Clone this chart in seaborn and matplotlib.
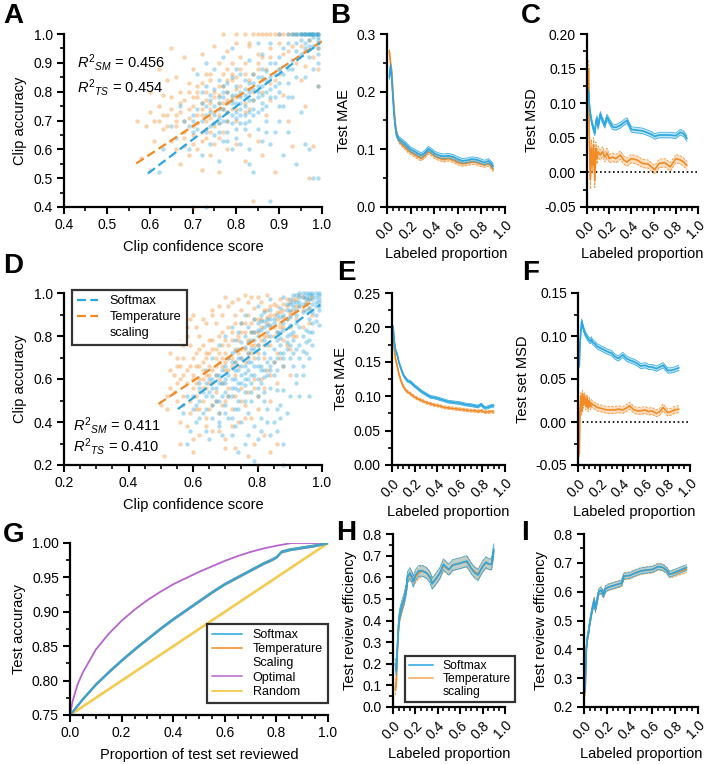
import numpy as np
import pandas as pd
import matplotlib
matplotlib.use("Agg")
import matplotlib.pyplot as plt
import seaborn as sns
from matplotlib.lines import Line2D

sns.set_theme(style="ticks")
plt.rcParams["font.family"] = ["Liberation Sans", "DejaVu Sans"]
plt.rcParams["mathtext.fontset"] = "custom"
plt.rcParams["mathtext.rm"] = "Liberation Sans"
plt.rcParams["mathtext.it"] = "Liberation Sans:italic"
plt.rcParams["axes.edgecolor"] = "black"
plt.rcParams["xtick.color"] = "black"
plt.rcParams["ytick.color"] = "black"
plt.rcParams["text.color"] = "black"
plt.rcParams["axes.labelcolor"] = "black"

BLUE = "#2aa6e0"
ORANGE = "#f28a25"
PURPLE = "#b765cc"
YELLOW = "#f4c843"

# ---------------- Panel A scatter (clip confidence, clip accuracy) ----------------
a_softmax_pts = [
    (0.93,1.0),(0.94,1.0),(0.95,1.0),(0.955,1.0),(0.96,1.0),(0.965,1.0),(0.97,1.0),(0.975,1.0),(0.98,1.0),
    (0.985,1.0),(0.99,1.0),(0.99,1.0),(0.985,1.0),(0.975,1.0),(0.96,1.0),(0.95,1.0),(0.92,1.0),(0.90,1.0),
    (0.99,0.97),(0.99,0.95),(0.99,0.93),(0.98,0.96),(0.97,0.98),(0.96,0.95),(0.99,0.90),(0.98,0.88),(0.99,0.82),
    (0.97,0.92),(0.95,0.93),(0.94,0.97),(0.93,0.91),(0.92,0.88),(0.90,0.92),(0.91,0.95),(0.88,0.97),
    (0.70,0.72),(0.72,0.70),(0.73,0.75),(0.74,0.68),(0.75,0.72),(0.76,0.78),(0.77,0.74),(0.78,0.70),(0.78,0.80),
    (0.79,0.76),(0.80,0.73),(0.80,0.82),(0.81,0.78),(0.82,0.84),(0.82,0.75),(0.83,0.80),(0.83,0.70),(0.84,0.86),
    (0.84,0.77),(0.85,0.82),(0.85,0.73),(0.86,0.79),(0.86,0.88),(0.87,0.84),(0.87,0.75),(0.88,0.81),(0.88,0.90),
    (0.89,0.86),(0.90,0.83),(0.76,0.66),(0.75,0.81),(0.79,0.85),(0.81,0.69),(0.77,0.63),(0.74,0.77),(0.72,0.80),
    (0.80,0.88),(0.83,0.91),(0.85,0.67),(0.87,0.70),(0.89,0.78),(0.71,0.67),(0.79,0.72),(0.82,0.79),(0.84,0.81),
    (0.78,0.76),(0.81,0.74),(0.76,0.71),(0.73,0.72),(0.80,0.79),(0.82,0.72),(0.86,0.85),(0.77,0.82),(0.75,0.75),
    (0.68,0.70),(0.67,0.75),(0.66,0.64),(0.69,0.60),(0.70,0.66),(0.72,0.58),(0.74,0.62),(0.76,0.56),(0.79,0.60),
    (0.81,0.62),(0.83,0.55),(0.84,0.52),(0.86,0.63),(0.88,0.62),(0.90,0.70),(0.91,0.75),(0.92,0.66),(0.93,0.78),
    (0.95,0.73),(0.96,0.62),(0.97,0.60),(0.98,0.50),(0.99,0.50),(0.88,0.42),(0.73,0.40),(0.62,0.52),(0.63,0.60),
    (0.65,0.68),(0.71,0.86),(0.73,0.90),(0.75,0.88),(0.77,0.92),(0.79,0.95),(0.94,0.55),(0.91,0.58),(0.89,0.66),
    (0.85,0.97),(0.86,0.93),(0.96,0.85),(0.94,0.85),
    (0.74,0.73),(0.75,0.69),(0.76,0.74),(0.77,0.70),(0.77,0.78),(0.78,0.73),(0.78,0.83),(0.79,0.69),(0.79,0.79),
    (0.80,0.76),(0.80,0.71),(0.81,0.80),(0.81,0.76),(0.82,0.81),(0.82,0.69),(0.83,0.77),(0.83,0.83),(0.84,0.74),
    (0.84,0.83),(0.85,0.78),(0.85,0.85),(0.86,0.76),(0.86,0.82),(0.87,0.80),(0.87,0.87),(0.88,0.78),(0.88,0.85),
    (0.89,0.82),(0.89,0.90),(0.90,0.80),(0.90,0.88),(0.91,0.86),(0.92,0.83),(0.93,0.88),(0.72,0.76),(0.73,0.66),
    (0.71,0.74),(0.70,0.70),(0.69,0.68),(0.75,0.65),(0.76,0.69),(0.78,0.66),(0.80,0.67),(0.82,0.67),(0.84,0.72),
    (0.86,0.74),(0.79,0.77),(0.81,0.72),(0.83,0.73),(0.85,0.80),(0.77,0.80),(0.76,0.76),(0.74,0.79),(0.73,0.82),
    (0.96,0.97),(0.97,0.96),(0.98,0.99),(0.99,0.98),(0.945,1.0),(0.935,1.0),(0.97,1.0),(0.98,1.0),(0.99,0.99),
    (0.95,0.98),(0.94,0.94),(0.92,0.97),(0.80,0.64),(0.78,0.63),(0.83,0.60),(0.87,0.66),(0.90,0.75),(0.92,0.78),
    (0.76,0.84),(0.81,0.86),
]
a_temp_pts = [
    (0.82,1.0),(0.84,1.0),(0.86,1.0),(0.87,1.0),(0.88,1.0),(0.90,1.0),(0.91,1.0),(0.92,1.0),(0.94,1.0),(0.96,1.0),
    (0.97,1.0),(0.99,1.0),(0.80,1.0),(0.77,1.0),
    (0.75,0.96),(0.72,0.93),(0.65,0.95),(0.68,0.92),(0.62,0.88),(0.78,0.94),(0.80,0.97),(0.83,0.96),(0.85,0.93),
    (0.88,0.95),(0.90,0.97),(0.92,0.94),(0.95,0.96),(0.97,0.98),(0.99,0.95),(0.98,0.92),(0.96,0.89),(0.94,0.90),(0.99,0.88),
    (0.66,0.72),(0.67,0.76),(0.68,0.70),(0.69,0.74),(0.70,0.78),(0.70,0.68),(0.71,0.72),(0.72,0.76),(0.72,0.66),
    (0.73,0.80),(0.73,0.70),(0.74,0.74),(0.75,0.78),(0.75,0.68),(0.76,0.82),(0.76,0.72),(0.77,0.76),(0.77,0.86),
    (0.78,0.80),(0.78,0.70),(0.79,0.84),(0.79,0.74),(0.80,0.78),(0.81,0.82),(0.81,0.88),(0.82,0.76),(0.83,0.84),
    (0.84,0.80),(0.85,0.88),(0.86,0.84),(0.74,0.84),(0.71,0.82),(0.69,0.80),(0.65,0.78),(0.64,0.72),(0.70,0.62),
    (0.73,0.64),(0.75,0.62),(0.77,0.66),(0.80,0.70),(0.83,0.74),(0.68,0.66),(0.66,0.68),(0.72,0.74),(0.76,0.76),
    (0.74,0.71),(0.78,0.77),(0.71,0.78),(0.80,0.85),(0.82,0.90),
    (0.58,0.57),(0.60,0.53),(0.61,0.63),(0.63,0.67),(0.62,0.75),(0.60,0.80),(0.64,0.84),(0.66,0.60),(0.67,0.55),
    (0.69,0.58),(0.70,0.40),(0.72,0.53),(0.74,0.58),(0.76,0.52),(0.78,0.60),(0.80,0.62),(0.82,0.56),(0.84,0.42),
    (0.85,0.63),(0.87,0.72),(0.88,0.77),(0.89,0.84),(0.90,0.88),(0.91,0.79),(0.92,0.70),(0.93,0.61),(0.95,0.84),
    (0.96,0.75),(0.97,0.50),(0.98,0.61),(0.99,0.82),(0.89,0.52),(0.86,0.58),(0.83,0.65),(0.79,0.90),(0.57,0.70),(0.59,0.68),
    (0.67,0.73),(0.68,0.77),(0.69,0.71),(0.70,0.75),(0.71,0.69),(0.71,0.80),(0.72,0.72),(0.72,0.83),(0.73,0.77),
    (0.73,0.67),(0.74,0.76),(0.74,0.86),(0.75,0.73),(0.75,0.80),(0.76,0.79),(0.76,0.69),(0.77,0.74),(0.77,0.82),
    (0.78,0.73),(0.78,0.88),(0.79,0.78),(0.79,0.86),(0.80,0.81),(0.80,0.74),(0.81,0.79),(0.82,0.86),(0.83,0.81),
    (0.84,0.86),(0.85,0.90),(0.86,0.92),(0.87,0.88),(0.88,0.92),(0.66,0.70),(0.65,0.74),(0.64,0.68),(0.63,0.72),
    (0.62,0.70),(0.68,0.64),(0.70,0.65),(0.72,0.63),(0.74,0.66),(0.76,0.64),(0.69,0.83),(0.67,0.80),(0.66,0.85),
    (0.70,0.88),(0.73,0.86),(0.76,0.90),(0.78,0.84),(0.81,0.92),(0.83,0.97),(0.85,1.0),(0.89,1.0),(0.93,1.0),
    (0.95,1.0),(0.98,1.0),(0.91,0.93),(0.93,0.96),(0.96,0.94),(0.90,0.86),(0.88,0.83),(0.86,0.80),(0.84,0.77),
    (0.82,0.73),(0.71,0.60),(0.68,0.61),(0.65,0.63),(0.61,0.70),(0.63,0.79),(0.60,0.73),
]
# regression fit lines (x range, y at ends)
a_fit_sm_x = [0.595, 0.995]
a_fit_sm_y = [0.516, 0.969]
a_fit_ts_x = [0.568, 1.0]
a_fit_ts_y = [0.551, 0.975]
a_r2 = ["0.456", "0.454"]

# ---------------- Panel D scatter ----------------
d_softmax_pts = [
    (0.90,0.97),(0.91,0.99),(0.92,0.96),(0.93,0.98),(0.94,1.0),(0.95,0.97),(0.96,0.99),(0.97,1.0),(0.98,0.98),
    (0.99,0.99),(0.99,0.96),(0.98,0.94),(0.97,0.95),(0.96,0.93),(0.95,1.0),(0.93,0.94),(0.92,0.92),(0.91,0.94),
    (0.90,0.92),(0.89,0.95),(0.88,0.98),(0.87,0.93),(0.94,0.91),(0.97,0.91),(0.99,0.92),(0.96,0.88),(0.98,0.87),
    (0.99,1.0),(0.95,0.95),(0.93,1.0),
    (0.86,0.90),(0.85,0.86),(0.84,0.92),(0.83,0.88),(0.82,0.84),(0.81,0.90),(0.80,0.86),(0.79,0.82),(0.88,0.86),
    (0.87,0.82),(0.89,0.88),(0.90,0.85),(0.91,0.82),(0.92,0.86),(0.93,0.84),(0.94,0.80),(0.95,0.83),(0.96,0.78),
    (0.86,0.78),(0.84,0.80),(0.82,0.78),(0.80,0.76),(0.78,0.78),(0.77,0.84),(0.76,0.80),(0.75,0.86),(0.74,0.82),(0.73,0.78),
    (0.72,0.72),(0.73,0.68),(0.74,0.74),(0.75,0.70),(0.76,0.66),(0.77,0.72),(0.78,0.68),(0.79,0.74),(0.80,0.70),
    (0.81,0.66),(0.82,0.72),(0.83,0.76),(0.84,0.70),(0.85,0.74),(0.86,0.70),(0.87,0.76),(0.88,0.72),(0.89,0.80),
    (0.90,0.76),(0.70,0.66),(0.71,0.62),(0.72,0.60),(0.73,0.64),(0.74,0.58),(0.75,0.62),(0.76,0.60),(0.77,0.64),
    (0.78,0.58),(0.79,0.62),(0.80,0.60),(0.81,0.58),(0.82,0.64),(0.83,0.62),(0.84,0.66),(0.85,0.62),(0.86,0.64),
    (0.88,0.66),(0.68,0.62),(0.69,0.58),(0.67,0.56),(0.66,0.60),(0.65,0.54),(0.64,0.58),(0.70,0.54),(0.72,0.52),
    (0.74,0.50),(0.76,0.54),(0.78,0.50),(0.80,0.52),(0.82,0.50),
    (0.62,0.50),(0.60,0.46),(0.63,0.44),(0.66,0.48),(0.68,0.44),(0.70,0.48),(0.71,0.42),(0.73,0.46),(0.75,0.40),
    (0.77,0.44),(0.79,0.38),(0.81,0.42),(0.83,0.46),(0.85,0.40),(0.87,0.48),(0.89,0.44),(0.86,0.36),(0.84,0.34),
    (0.80,0.32),(0.76,0.30),(0.72,0.34),(0.68,0.38),(0.64,0.36),(0.59,0.36),(0.58,0.30),(0.61,0.40),(0.74,0.26),
    (0.79,0.22),(0.88,0.30),(0.88,0.20),(0.90,0.52),(0.92,0.58),(0.94,0.62),(0.96,0.52),(0.93,0.70),(0.91,0.66),
    (0.95,0.72),(0.97,0.82),(0.99,0.85),(0.58,0.52),(0.57,0.44),(0.62,0.56),(0.64,0.64),(0.66,0.70),(0.68,0.76),
    (0.70,0.80),(0.72,0.84),(0.76,0.90),(0.80,0.94),(0.84,0.97),
    (0.95,0.98),(0.96,0.97),(0.97,0.99),(0.98,1.0),(0.97,0.97),(0.96,1.0),(0.94,0.98),(0.93,0.96),(0.92,0.99),
    (0.91,0.96),(0.90,0.95),(0.89,0.92),(0.98,0.96),(0.99,0.97),(0.95,0.92),(0.94,0.95),(0.92,0.90),(0.90,0.89),
    (0.88,0.90),(0.87,0.89),
    (0.85,0.88),(0.84,0.85),(0.83,0.82),(0.82,0.87),(0.81,0.83),(0.80,0.80),(0.79,0.78),(0.78,0.82),(0.77,0.77),
    (0.76,0.75),(0.75,0.77),(0.74,0.70),(0.73,0.73),(0.72,0.68),(0.71,0.70),(0.70,0.60),(0.69,0.64),(0.68,0.58),
    (0.67,0.62),(0.66,0.56),(0.65,0.60),(0.64,0.52),(0.63,0.54),(0.62,0.58),(0.61,0.48),(0.60,0.52),(0.86,0.82),
    (0.87,0.79),(0.88,0.83),(0.89,0.77),(0.90,0.81),(0.91,0.78),(0.92,0.74),(0.93,0.76),(0.94,0.73),(0.95,0.77),
    (0.96,0.82),(0.97,0.86),(0.98,0.90),(0.99,0.94),(0.85,0.68),(0.84,0.64),(0.83,0.68),(0.82,0.61),(0.81,0.64),
    (0.80,0.66),(0.79,0.66),(0.78,0.62),(0.77,0.60),(0.76,0.57),(0.75,0.58),(0.74,0.55),(0.73,0.56),(0.72,0.56),
    (0.71,0.52),(0.70,0.58),(0.69,0.52),(0.68,0.50),(0.67,0.50),(0.66,0.52),(0.87,0.72),(0.88,0.70),(0.89,0.74),
    (0.90,0.70),(0.91,0.72),(0.84,0.88),(0.83,0.85),(0.82,0.91),(0.81,0.87),(0.80,0.83),(0.79,0.88),(0.78,0.74),
    (0.77,0.68),(0.76,0.63),(0.75,0.66),(0.74,0.64),(0.73,0.60),(0.86,0.55),(0.84,0.56),(0.82,0.54),(0.80,0.56),
    (0.78,0.54),(0.76,0.50),(0.74,0.46),(0.72,0.42),(0.70,0.44),(0.68,0.40),(0.66,0.42),(0.64,0.46),(0.62,0.42),
    (0.83,0.40),(0.81,0.36),(0.77,0.34),(0.73,0.38),(0.69,0.34),(0.65,0.32),(0.87,0.42),(0.86,0.46),(0.88,0.55),
    (0.92,0.62),(0.94,0.66),(0.96,0.70),(0.97,0.76),(0.93,0.52),
]
d_temp_pts = [
    (0.97,0.98),(0.95,0.96),(0.93,0.99),(0.91,0.97),(0.89,0.94),(0.87,0.97),(0.85,0.95),(0.83,0.92),(0.81,0.96),
    (0.79,0.93),(0.77,0.96),(0.75,0.92),(0.73,0.90),(0.71,0.94),(0.69,0.90),(0.67,0.86),(0.70,0.98),(0.74,0.97),
    (0.78,0.98),(0.83,0.99),(0.86,0.91),(0.88,0.89),(0.90,0.91),(0.92,0.94),(0.94,0.92),(0.96,0.93),(0.63,0.88),
    (0.61,0.84),(0.66,0.92),(0.59,0.88),
    (0.60,0.70),(0.61,0.66),(0.62,0.74),(0.63,0.68),(0.64,0.72),(0.65,0.78),(0.66,0.74),(0.67,0.70),(0.68,0.80),
    (0.69,0.76),(0.70,0.72),(0.71,0.84),(0.72,0.78),(0.73,0.74),(0.74,0.80),(0.75,0.86),(0.76,0.82),(0.77,0.78),
    (0.78,0.86),(0.79,0.82),(0.80,0.88),(0.81,0.84),(0.82,0.80),(0.83,0.86),(0.84,0.90),(0.85,0.84),(0.86,0.88),
    (0.87,0.84),(0.88,0.92),(0.62,0.60),(0.63,0.64),(0.64,0.62),(0.65,0.66),(0.66,0.64),(0.67,0.62),(0.68,0.68),
    (0.69,0.66),(0.70,0.64),(0.71,0.70),(0.72,0.66),(0.73,0.68),(0.74,0.72),(0.75,0.70),(0.76,0.74),(0.77,0.72),
    (0.78,0.76),(0.79,0.70),(0.80,0.76),(0.58,0.64),(0.57,0.70),(0.56,0.60),(0.59,0.76),(0.58,0.80),(0.60,0.56),
    (0.61,0.52),(0.63,0.56),(0.65,0.58),(0.67,0.54),(0.69,0.58),(0.71,0.56),
    (0.54,0.62),(0.53,0.56),(0.55,0.50),(0.52,0.52),(0.51,0.24),(0.55,0.66),(0.57,0.48),(0.59,0.44),(0.62,0.46),
    (0.64,0.42),(0.66,0.48),(0.68,0.44),(0.70,0.50),(0.72,0.46),(0.74,0.40),(0.76,0.48),(0.78,0.42),(0.80,0.52),
    (0.82,0.56),(0.84,0.62),(0.86,0.58),(0.88,0.66),(0.90,0.74),(0.92,0.80),(0.94,0.84),(0.96,0.86),(0.97,0.90),
    (0.66,0.36),(0.70,0.32),(0.73,0.28),(0.77,0.24),(0.80,0.20),(0.84,0.26),(0.86,0.30),(0.62,0.34),(0.58,0.38),
    (0.56,0.30),(0.60,0.26),(0.90,0.62),(0.92,0.88),(0.50,0.48),(0.53,0.72),(0.56,0.78),(0.82,0.70),(0.84,0.76),
    (0.86,0.72),(0.88,0.78),(0.90,0.84),(0.75,0.56),(0.79,0.60),
    (0.60,0.62),(0.61,0.72),(0.62,0.66),(0.63,0.76),(0.64,0.70),(0.65,0.72),(0.66,0.78),(0.67,0.74),(0.68,0.72),
    (0.69,0.82),(0.70,0.78),(0.71,0.76),(0.72,0.82),(0.73,0.86),(0.74,0.78),(0.75,0.82),(0.76,0.86),(0.77,0.90),
    (0.78,0.82),(0.79,0.88),(0.80,0.82),(0.81,0.88),(0.82,0.92),(0.83,0.89),(0.84,0.94),(0.85,0.90),(0.86,0.94),
    (0.87,0.91),(0.88,0.95),(0.89,0.97),(0.90,0.96),(0.92,0.97),(0.94,0.98),(0.96,0.97),(0.58,0.58),(0.57,0.62),
    (0.56,0.66),(0.55,0.58),(0.59,0.66),(0.60,0.60),(0.61,0.58),(0.62,0.54),(0.63,0.60),(0.64,0.56),(0.65,0.62),
    (0.66,0.58),(0.67,0.66),(0.68,0.60),(0.69,0.70),(0.70,0.68),(0.71,0.64),(0.72,0.70),(0.73,0.62),(0.74,0.66),
    (0.75,0.74),(0.76,0.68),(0.77,0.70),(0.78,0.72),(0.79,0.76),(0.80,0.72),(0.81,0.78),(0.82,0.76),(0.83,0.80),
    (0.84,0.84),(0.85,0.80),(0.86,0.82),(0.87,0.86),(0.88,0.84),(0.89,0.88),(0.90,0.90),(0.91,0.92),(0.93,0.94),
    (0.57,0.52),(0.59,0.50),(0.61,0.46),(0.63,0.50),(0.65,0.46),(0.67,0.50),(0.69,0.48),(0.71,0.52),(0.73,0.52),
    (0.75,0.50),(0.77,0.54),(0.79,0.56),(0.81,0.60),(0.83,0.64),(0.85,0.68),(0.87,0.70),(0.89,0.76),(0.91,0.80),
    (0.54,0.54),(0.53,0.64),(0.55,0.70),(0.57,0.76),(0.58,0.84),(0.60,0.90),(0.62,0.80),(0.64,0.86),(0.66,0.90),
    (0.68,0.94),(0.72,0.96),(0.76,0.99),(0.80,0.98),(0.64,0.38),(0.68,0.36),(0.72,0.38),(0.76,0.42),(0.80,0.46),
    (0.84,0.50),(0.60,0.32),(0.70,0.28),(0.79,0.30),(0.82,0.34),(0.56,0.40),(0.52,0.46),
]
d_fit_sm_x = [0.553, 0.995]
d_fit_sm_y = [0.460, 0.946]
d_fit_ts_x = [0.493, 0.970]
d_fit_ts_y = [0.484, 0.961]
d_r2 = ["0.411", "0.410"]

# ---------------- Panel B: Test MAE ----------------
b_x = [0.02,0.03,0.04,0.05,0.06,0.07,0.08,0.10,0.12,0.15,0.18,0.20,0.23,0.26,0.29,0.32,0.35,0.38,0.41,0.45,
       0.48,0.52,0.56,0.60,0.64,0.68,0.72,0.76,0.80,0.83,0.86,0.88,0.90]
b_softmax = [0.225,0.245,0.225,0.19,0.16,0.14,0.125,0.118,0.115,0.11,0.104,0.10,0.097,0.093,0.09,0.094,0.101,
             0.097,0.092,0.089,0.088,0.089,0.087,0.083,0.080,0.081,0.083,0.082,0.079,0.077,0.080,0.076,0.071]
b_temp = [0.27,0.25,0.235,0.20,0.17,0.145,0.13,0.115,0.11,0.104,0.098,0.095,0.091,0.087,0.084,0.089,0.096,
          0.092,0.087,0.084,0.082,0.084,0.081,0.077,0.075,0.076,0.078,0.077,0.074,0.073,0.075,0.071,0.065]
b_ci = [0.004, 0.004]

# ---------------- Panel C: Test MSD ----------------
c_x = [0.015,0.02,0.03,0.04,0.05,0.06,0.07,0.08,0.09,0.10,0.12,0.14,0.16,0.18,0.20,0.23,0.26,0.30,0.33,0.36,
       0.40,0.45,0.50,0.55,0.58,0.61,0.65,0.70,0.75,0.80,0.84,0.87,0.90]
c_softmax = [0.117,0.10,0.085,0.075,0.068,0.062,0.057,0.072,0.078,0.066,0.084,0.075,0.068,0.080,0.074,0.066,
             0.065,0.068,0.072,0.075,0.062,0.061,0.060,0.057,0.055,0.052,0.054,0.054,0.054,0.053,0.058,0.056,0.049]
c_temp = [0.15,0.06,-0.01,0.035,0.01,0.04,-0.012,0.035,0.02,0.03,0.025,0.03,0.022,0.028,0.02,0.022,0.02,
          0.025,0.018,0.015,0.02,0.018,0.013,0.012,0.008,0.004,0.013,0.014,0.008,0.02,0.018,0.015,0.01]
c_temp_ci = [0.012,0.015,0.014,0.012,0.011,0.010,0.010,0.009,0.008,0.008,0.007,0.007,0.007,0.007,0.006,0.006,
             0.006,0.006,0.006,0.006,0.006,0.006,0.006,0.006,0.006,0.006,0.006,0.006,0.006,0.006,0.006,0.006,0.006]
c_softmax_ci = 0.004

# ---------------- Panel E: Test MAE ----------------
e_x = [0.01,0.02,0.03,0.04,0.05,0.06,0.08,0.10,0.12,0.14,0.16,0.18,0.20,0.23,0.26,0.30,0.34,0.38,0.42,0.46,
       0.50,0.55,0.60,0.65,0.70,0.73,0.76,0.79,0.82,0.85,0.88,0.90]
e_softmax = [0.201,0.18,0.168,0.163,0.158,0.15,0.14,0.131,0.126,0.122,0.121,0.118,0.115,0.111,0.107,0.103,
             0.099,0.098,0.096,0.094,0.092,0.091,0.090,0.088,0.087,0.086,0.085,0.088,0.083,0.084,0.086,0.086]
e_temp = [0.197,0.17,0.155,0.148,0.141,0.133,0.122,0.114,0.109,0.106,0.104,0.101,0.099,0.096,0.094,0.091,
          0.089,0.087,0.086,0.084,0.083,0.082,0.081,0.080,0.079,0.079,0.078,0.079,0.077,0.077,0.078,0.077]
e_ci = [0.002, 0.002]

# ---------------- Panel F: Test set MSD ----------------
f_x = [0.012,0.017,0.025,0.033,0.04,0.05,0.06,0.07,0.08,0.09,0.10,0.11,0.12,0.13,0.15,0.17,0.20,0.23,0.26,0.30,
       0.33,0.36,0.40,0.43,0.46,0.50,0.53,0.56,0.60,0.63,0.66,0.70,0.73,0.76,0.80,0.83,0.86,0.90]
f_softmax = [0.066,0.088,0.105,0.117,0.113,0.108,0.104,0.101,0.099,0.097,0.095,0.094,0.096,0.093,0.091,0.088,
             0.086,0.084,0.082,0.080,0.076,0.074,0.078,0.074,0.072,0.070,0.068,0.065,0.066,0.064,0.064,0.062,
             0.064,0.066,0.060,0.060,0.061,0.063]
f_temp = [-0.037,0.01,0.03,0.012,0.033,0.02,0.03,0.018,0.028,0.016,0.025,0.018,0.022,0.02,0.019,0.017,0.016,
          0.015,0.014,0.014,0.014,0.015,0.014,0.016,0.019,0.014,0.013,0.013,0.014,0.012,0.013,0.010,0.012,
          0.017,0.011,0.012,0.014,0.015]
f_ci = [0.003, 0.004]

# ---------------- Panel G: cumulative accuracy ----------------
g_x = [0.0,0.02,0.05,0.1,0.15,0.2,0.25,0.3,0.35,0.4,0.45,0.5,0.55,0.6,0.65,0.7,0.75,0.78,0.8,0.82,0.85,0.9,0.95,1.0]
g_softmax = [0.75,0.759,0.773,0.794,0.812,0.829,0.845,0.86,0.875,0.889,0.902,0.915,0.928,0.94,0.95,0.96,0.97,
             0.975,0.979,0.987,0.99,0.993,0.996,1.0]
g_temp = [0.75,0.759,0.773,0.794,0.812,0.829,0.845,0.86,0.875,0.889,0.902,0.915,0.928,0.94,0.95,0.96,0.97,
          0.975,0.979,0.987,0.99,0.993,0.996,1.0]
g_opt_x = [0.0,0.01,0.03,0.05,0.1,0.15,0.2,0.25,0.3,0.35,0.4,0.45,0.5,0.55,0.6,0.65,0.7,0.75,0.8,0.86,0.9,1.0]
g_optimal = [0.75,0.77,0.795,0.812,0.845,0.868,0.887,0.903,0.917,0.929,0.94,0.949,0.958,0.966,0.974,0.981,
             0.987,0.992,0.996,1.0,1.0,1.0]
g_rand_x = [0.0,0.5,1.0]
g_random = [0.75,0.875,1.0]

# ---------------- Panel H: review efficiency ----------------
h_x = [0.02,0.03,0.04,0.05,0.06,0.08,0.10,0.12,0.13,0.15,0.17,0.18,0.20,0.23,0.26,0.30,0.33,0.35,0.38,0.42,
       0.45,0.48,0.50,0.53,0.56,0.60,0.63,0.66,0.70,0.73,0.76,0.80,0.83,0.86,0.88,0.90]
h_softmax = [0.20,0.17,0.29,0.38,0.43,0.47,0.50,0.55,0.60,0.62,0.60,0.58,0.61,0.63,0.63,0.62,0.60,0.57,0.59,
             0.62,0.66,0.645,0.635,0.655,0.66,0.665,0.67,0.675,0.64,0.62,0.61,0.65,0.67,0.66,0.66,0.73]
h_temp = [0.08,0.12,0.27,0.37,0.42,0.46,0.50,0.55,0.60,0.61,0.60,0.58,0.60,0.62,0.63,0.62,0.60,0.575,0.59,
          0.62,0.655,0.64,0.635,0.655,0.66,0.665,0.67,0.67,0.64,0.625,0.615,0.65,0.665,0.66,0.66,0.72]
h_ci = [0.025, 0.025]

# ---------------- Panel I: review efficiency ----------------
i_x = [0.01,0.02,0.03,0.04,0.05,0.07,0.09,0.10,0.12,0.13,0.15,0.17,0.19,0.21,0.25,0.30,0.33,0.35,0.40,0.45,
       0.50,0.55,0.60,0.65,0.68,0.70,0.73,0.75,0.80,0.85,0.90]
i_softmax = [0.26,0.40,0.44,0.46,0.49,0.535,0.57,0.54,0.58,0.60,0.605,0.59,0.61,0.615,0.62,0.626,0.63,0.654,
             0.656,0.665,0.672,0.675,0.677,0.687,0.685,0.682,0.672,0.66,0.668,0.676,0.684]
i_temp = [0.25,0.40,0.44,0.46,0.49,0.535,0.57,0.54,0.58,0.60,0.605,0.59,0.61,0.615,0.62,0.626,0.63,0.654,
          0.656,0.665,0.672,0.675,0.677,0.687,0.685,0.682,0.672,0.66,0.665,0.672,0.678]
i_ci = [0.010, 0.012]

# =====================================================================
W, H = 708, 764
fig = plt.figure(figsize=(W / 100, H / 100), dpi=100)
fig.patch.set_facecolor("white")


def add_ax(x0, y0, x1, y1):
    return fig.add_axes([x0 / W, 1 - y1 / H, (x1 - x0) / W, (y1 - y0) / H])


def ticks(lo, hi, step):
    return list(np.round(np.arange(lo, hi + step / 2, step), 4))


def style(ax, xlim, ylim, xmaj, xmin, ymaj, ymin, xfmt, yfmt, rot=False):
    ax.set_facecolor("white")
    ax.set_xlim(*xlim)
    ax.set_ylim(*ylim)
    xt = ticks(xlim[0], xlim[1], xmaj)
    yt = ticks(ylim[0], ylim[1], ymaj)
    ax.set_xticks(xt)
    ax.set_yticks(yt)
    ax.set_xticks(ticks(xlim[0], xlim[1], xmin), minor=True)
    ax.set_yticks(ticks(ylim[0], ylim[1], ymin), minor=True)
    if rot:
        ax.set_xticklabels([xfmt % v for v in xt], rotation=45, ha="right", rotation_mode="anchor")
    else:
        ax.set_xticklabels([xfmt % v for v in xt])
    ax.set_yticklabels([yfmt % v for v in yt])
    sns.despine(ax=ax)
    for s in ["left", "bottom"]:
        ax.spines[s].set_linewidth(1.6)
        ax.spines[s].set_color("black")
    ax.tick_params(which="major", direction="out", length=5, width=1.5, labelsize=10, pad=3)
    ax.tick_params(which="minor", direction="out", length=3, width=1.2)
    ax.grid(False)


def band(ax, x, y, ci, color, dashed_edges, lw=1.2):
    x = np.asarray(x)
    y = np.asarray(y)
    ci = np.asarray(ci) * np.ones_like(y)
    ax.fill_between(x, y - ci, y + ci, color=color, alpha=0.28, linewidth=0)
    ls = (0, (3, 1.5)) if dashed_edges else "-"
    for yy in (y - ci, y + ci):
        sns.lineplot(x=x, y=yy, ax=ax, color=color, linewidth=0.6, linestyle=ls, alpha=0.9)
    sns.lineplot(x=x, y=y, ax=ax, color=color, linewidth=lw)


def scatter_panel(ax, sm_pts, ts_pts, fit_sm, fit_ts):
    ts = pd.DataFrame(ts_pts, columns=["conf", "acc"])
    sm = pd.DataFrame(sm_pts, columns=["conf", "acc"])
    sns.scatterplot(data=ts, x="conf", y="acc", ax=ax, color=ORANGE, alpha=0.38, s=10, linewidth=0, clip_on=False)
    sns.scatterplot(data=sm, x="conf", y="acc", ax=ax, color=BLUE, alpha=0.38, s=10, linewidth=0, clip_on=False)
    sns.lineplot(x=fit_ts[0], y=fit_ts[1], ax=ax, color=ORANGE, linewidth=1.6, linestyle=(0, (4, 2)))
    sns.lineplot(x=fit_sm[0], y=fit_sm[1], ax=ax, color=BLUE, linewidth=1.6, linestyle=(0, (4, 2)))


def r2_text(ax, x, y1, y2, vals):
    ax.text(x, y1, r"$R^{2}{}_{SM}$" + " = " + vals[0], transform=ax.transAxes, fontsize=10.5, va="center")
    ax.text(x, y2, r"$R^{2}{}_{TS}$" + " = " + vals[1], transform=ax.transAxes, fontsize=10.5, va="center")


def letter(x, y, s):
    fig.text(x / W, 1 - y / H, s, fontsize=20, fontweight="bold", va="top", ha="left")


def boxed_legend(ax, handles, labels, fontsize, **kw):
    leg = ax.legend(handles, labels, frameon=True, fancybox=False, fontsize=fontsize, borderaxespad=0, **kw)
    leg.get_frame().set_edgecolor("black")
    leg.get_frame().set_linewidth(1.6)
    return leg


# ---- A ----
axA = add_ax(64, 34, 322, 207)
scatter_panel(axA, a_softmax_pts, a_temp_pts, (a_fit_sm_x, a_fit_sm_y), (a_fit_ts_x, a_fit_ts_y))
style(axA, (0.4, 1.0), (0.4, 1.0), 0.1, 0.05, 0.1, 0.05, "%.1f", "%.1f")
axA.set_xlabel("Clip confidence score", fontsize=10.5, labelpad=6)
axA.set_ylabel("Clip accuracy", fontsize=10.5, labelpad=5)
r2_text(axA, 0.05, 0.835, 0.69, a_r2)

# ---- B ----
axB = add_ax(387, 34, 505, 207)
band(axB, b_x, b_temp, b_ci[1], ORANGE, True)
band(axB, b_x, b_softmax, b_ci[0], BLUE, False)
style(axB, (0.0, 1.0), (0.0, 0.3), 0.2, 0.05, 0.1, 0.05, "%.1f", "%.1f", rot=True)
axB.set_xlabel("Labeled proportion", fontsize=10.5)
axB.set_ylabel("Test MAE", fontsize=10.5)

# ---- C ----
axC = add_ax(587, 34, 698, 207)
sns.lineplot(x=[0, 1.0], y=[0, 0], ax=axC, color="black", linewidth=1.2, linestyle=(0, (1, 1.6)))
band(axC, c_x, c_temp, c_temp_ci, ORANGE, True)
band(axC, c_x, c_softmax, c_softmax_ci, BLUE, False)
style(axC, (0.0, 1.0), (-0.05, 0.20), 0.2, 0.05, 0.05, 0.025, "%.1f", "%.2f", rot=True)
axC.set_xlabel("Labeled proportion", fontsize=10.5)
axC.set_ylabel("Test MSD", fontsize=10.5)

# ---- D ----
axD = add_ax(64, 293, 322, 465)
scatter_panel(axD, d_softmax_pts, d_temp_pts, (d_fit_sm_x, d_fit_sm_y), (d_fit_ts_x, d_fit_ts_y))
style(axD, (0.2, 1.0), (0.2, 1.0), 0.2, 0.05, 0.2, 0.1, "%.1f", "%.1f")
axD.set_xlabel("Clip confidence score", fontsize=10.5, labelpad=6)
axD.set_ylabel("Clip accuracy", fontsize=10.5, labelpad=5)
r2_text(axD, 0.035, 0.227, 0.11, d_r2)
hD = [Line2D([], [], color=BLUE, lw=1.6, ls=(0, (4, 2))),
      Line2D([], [], color=ORANGE, lw=1.6, ls=(0, (4, 2))),
      Line2D([], [], color="none")]
boxed_legend(axD, hD, ["Softmax", "Temperature", "scaling"], 9.2, loc="upper left",
             bbox_to_anchor=(0.03, 1.02), handlelength=1.6, labelspacing=0.3, handletextpad=0.9, borderpad=0.45)

# ---- E ----
axE = add_ax(392, 293, 505, 465)
band(axE, e_x, e_temp, e_ci[1], ORANGE, True)
band(axE, e_x, e_softmax, e_ci[0], BLUE, False)
style(axE, (0.0, 1.0), (0.0, 0.25), 0.2, 0.05, 0.05, 0.025, "%.1f", "%.2f", rot=True)
axE.set_xlabel("Labeled proportion", fontsize=10.5)
axE.set_ylabel("Test MAE", fontsize=10.5)

# ---- F ----
axF = add_ax(578, 293, 690, 465)
sns.lineplot(x=[0, 1.0], y=[0, 0], ax=axF, color="black", linewidth=1.2, linestyle=(0, (1, 1.6)))
band(axF, f_x, f_temp, f_ci[1], ORANGE, True)
band(axF, f_x, f_softmax, f_ci[0], BLUE, False)
style(axF, (0.0, 1.0), (-0.05, 0.15), 0.2, 0.05, 0.05, 0.025, "%.1f", "%.2f", rot=True)
axF.set_xlabel("Labeled proportion", fontsize=10.5)
axF.set_ylabel("Test set MSD", fontsize=10.5)

# ---- G ----
axG = add_ax(70, 543, 328, 715)
band(axG, g_rand_x, g_random, 0.0015, YELLOW, False, lw=1.0)
sns.lineplot(x=g_opt_x, y=g_optimal, ax=axG, color=PURPLE, linewidth=1.3)
band(axG, g_x, g_temp, 0.0015, ORANGE, False, lw=1.0)
band(axG, g_x, g_softmax, 0.0015, BLUE, False, lw=1.0)
style(axG, (0.0, 1.0), (0.75, 1.0), 0.2, 0.05, 0.05, 0.025, "%.1f", "%.2f")
axG.set_xlabel("Proportion of test set reviewed", fontsize=10.5, labelpad=6)
axG.set_ylabel("Test accuracy", fontsize=10.5)
hG = [Line2D([], [], color=BLUE, lw=1.4, alpha=0.8),
      Line2D([], [], color=ORANGE, lw=1.4, alpha=0.8),
      Line2D([], [], color="none"),
      Line2D([], [], color=PURPLE, lw=1.4, alpha=0.8),
      Line2D([], [], color=YELLOW, lw=1.4, alpha=0.9)]
boxed_legend(axG, hG, ["Softmax", "Temperature", "Scaling", "Optimal", "Random"], 9, loc="lower right",
             bbox_to_anchor=(1.0, 0.07), handlelength=2.4, labelspacing=0.18, handletextpad=0.9, borderpad=0.4)

# ---- H ----
axH = add_ax(393, 534, 505, 707)
band(axH, h_x, h_temp, h_ci[1], ORANGE, True)
band(axH, h_x, h_softmax, h_ci[0], BLUE, False)
style(axH, (0.0, 1.0), (0.0, 0.8), 0.2, 0.05, 0.1, 0.05, "%.1f", "%.1f", rot=True)
axH.set_xlabel("Labeled proportion", fontsize=10.5)
axH.set_ylabel("Test review efficiency", fontsize=10.5)
hH = [Line2D([], [], color=BLUE, lw=1.4, alpha=0.8),
      Line2D([], [], color=ORANGE, lw=1.4, alpha=0.6),
      Line2D([], [], color="none")]
boxed_legend(axH, hH, ["Softmax", "Temperature", "scaling"], 8.7, loc="lower left",
             bbox_to_anchor=(0.11, 0.03), handlelength=2.0, labelspacing=0.1, handletextpad=0.8, borderpad=0.3)

# ---- I ----
axI = add_ax(584, 534, 698, 707)
band(axI, i_x, i_temp, i_ci[1], ORANGE, True)
band(axI, i_x, i_softmax, i_ci[0], BLUE, False)
style(axI, (0.0, 1.0), (0.2, 0.8), 0.2, 0.05, 0.1, 0.05, "%.1f", "%.1f", rot=True)
axI.set_xlabel("Labeled proportion", fontsize=10.5)
axI.set_ylabel("Test review efficiency", fontsize=10.5)

# ---- panel letters ----
letter(3, 3, "A")
letter(330, 3, "B")
letter(521, 3, "C")
letter(3, 253, "D")
letter(337, 260, "E")
letter(522, 260, "F")
letter(3, 522, "G")
letter(336, 520, "H")
letter(521, 520, "I")

fig.savefig("out.png", dpi=100, facecolor="white")
